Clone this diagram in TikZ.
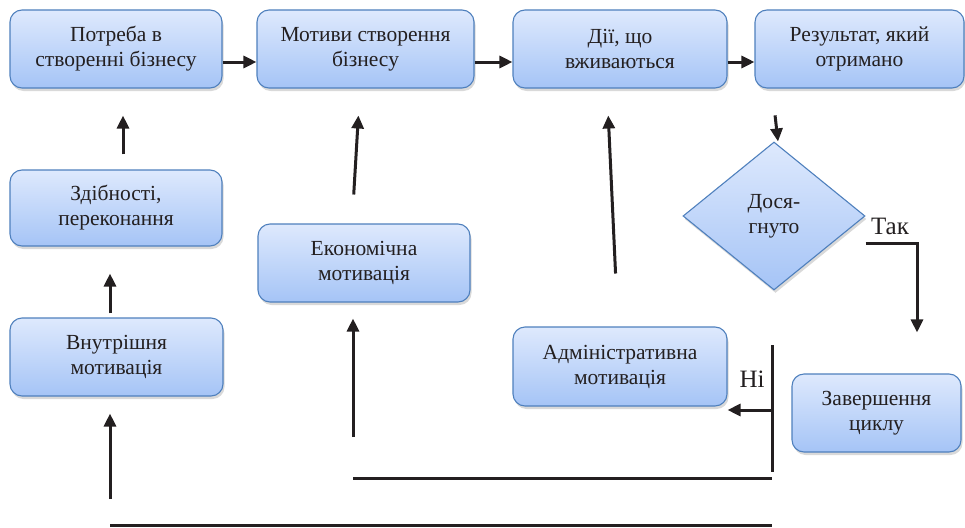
\documentclass[tikz,border=0pt]{standalone}
\usepackage{fontspec}
\setmainfont{Liberation Serif}
\usetikzlibrary{shapes.geometric,shadows,arrows.meta}
\definecolor{boxtop}{HTML}{DEE9FD}
\definecolor{boxbot}{HTML}{A5C4F6}
\definecolor{boxline}{HTML}{4F80BD}
\definecolor{ink}{HTML}{231F20}

\begin{document}
\begin{tikzpicture}[x=1pt,y=-1pt]
        \tikzstyle{box}=[rectangle, rounded corners=12pt, draw=boxline, line width=1.1pt,
          top color=boxtop, bottom color=boxbot,
          drop shadow={shadow xshift=1.5pt, shadow yshift=-3pt, opacity=0.3},
          align=center, text=ink, font=\fontsize{21.5}{25}\selectfont,
          minimum height=78pt, inner sep=0pt]
        \tikzstyle{arr}=[line width=3pt, draw=ink, -{Triangle[length=13pt,width=12pt]}]
        \tikzstyle{line}=[line width=3pt, draw=ink]
        \tikzstyle{lbl}=[text=ink, font=\fontsize{25}{28}\selectfont, inner sep=0pt]

        \useasboundingbox (0,0) rectangle (965,527);

        \foreach \i/\x/\w/\t in {0/116/212/{Потреба в\\створенні бізнесу},
                                 1/365.5/217/{Мотиви створення\\бізнесу},
                                 2/620/214/{Дії, що\\вживаються},
                                 3/859.5/209/{Результат, який\\отримано}}
        {
          \path (\x, 49) node[box, minimum width=\w pt] (t\i) {\t};
        }

        \path (116, 208) node[box, minimum width=212pt, minimum height=76pt] (zd) {Здібності,\\переконання};
        \path (116.5, 357) node[box, minimum width=213pt] (vn) {Внутрішня\\мотивація};
        \path (364, 263) node[box, minimum width=212pt] (ek) {Економічна\\мотивація};
        \path (620, 366.5) node[box, minimum width=214pt, minimum height=79pt] (ad) {Адміністративна\\мотивація};
        \path (876.5, 413) node[box, minimum width=169pt] (zv) {Завершення\\циклу};
        \path (774, 216) node[box, shape=diamond, rounded corners=0pt, aspect=1.23,
          minimum width=182pt, minimum height=148pt] (d) {Дося-\\гнуто};

        \path (890, 226) node[lbl] (tak) {Так};
        \path (752, 379) node[lbl] (ni) {Ні};

        \coordinate (n0) at (772, 345);
        \coordinate (n1) at (772, 472);
        \coordinate (n2) at (772, 410);
        \coordinate (e0) at (353, 478);
        \coordinate (e1) at (772, 478);
        \coordinate (e2) at (353, 437);
        \coordinate (f0) at (110, 525);
        \coordinate (f1) at (772, 525);
        \coordinate (f2) at (110, 499);

        \foreach \i/\j in {0/1, 1/2, 2/3}
        {
          \draw[arr] ([yshift=-13pt]t\i.east) -- ([yshift=-13pt]t\j.west);
        }

        \draw[arr, shorten <=15pt, shorten >=27pt] ([xshift=7pt]zd.north) -- ([xshift=7pt]t0.south);
        \draw[arr, shorten <=4pt, shorten >=27pt] ([xshift=-6.5pt]vn.north) -- ([xshift=-6pt]zd.south);
        \draw[arr, shorten <=29pt, shorten >=27pt] ([xshift=-12pt]ek.north) -- ([xshift=-5.5pt]t1.south);
        \draw[arr, shorten <=53pt, shorten >=27pt] ([xshift=-2pt]ad.north) -- ([xshift=-13pt]t2.south);
        \draw[arr, shorten <=27pt] ([xshift=-87.5pt]t3.south) -- ([xshift=4pt]d.north);
        \draw[arr, shorten >=41pt] ([yshift=-27pt]d.east) -| ([xshift=40.5pt]zv.north);

        \draw[line] (n0) -- (n1);
        \draw[arr] (n2) -- (n2 -| ad.east);
        \draw[line] (e0) -- (e1);
        \draw[arr, shorten >=16pt] (e2) -- (e2 |- ek.south);
        \draw[line] (f0) -- (f1);
        \draw[arr, shorten >=17pt] (f2) -- (f2 |- vn.south);
      \end{tikzpicture}
\end{document}
